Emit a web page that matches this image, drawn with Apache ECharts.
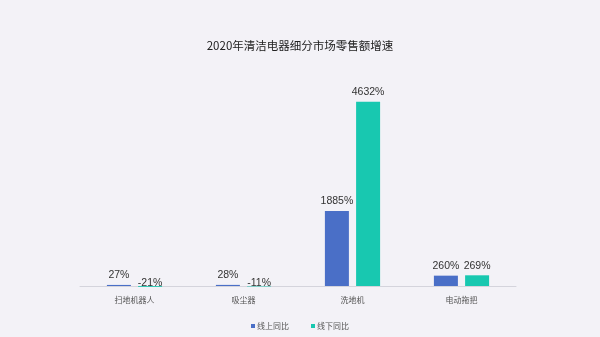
<!DOCTYPE html>
<html><head><meta charset="utf-8">
<script src="https://cdn.jsdelivr.net/npm/echarts@6/dist/echarts.min.js"></script>
<style>html,body{margin:0;padding:0;background:#f3f2f7;}#c{width:600px;height:337px;}</style>
</head><body><div id="c"></div>
<script>
const categories = ['扫地机器人', '吸尘器', '洗地机', '电动拖把'];
const online = [27, 28, 1885, 260];
const offline = [-21, -11, 4632, 269];
const seriesNames = ['线上同比', '线下同比'];

const chart = echarts.init(document.getElementById('c'));
const lbl = {show: true, position: 'top', formatter: p => p.value + '%', color: '#333', fontSize: 10.5, distance: 4, fontFamily: 'Liberation Sans'};
const toData = arr => arr.map(v => v < 0 ? {value: v, label: {offset: [0, 7]}} : v);
chart.setOption({
  backgroundColor: '#f3f2f7',
  textStyle: {fontFamily: 'Noto Sans CJK SC'},
  title: {text: '2020年清洁电器细分市场零售额增速', left: 'center', top: 35, textStyle: {fontSize: 11.5, fontWeight: 'normal', color: '#222'}},
  legend: {top: 317, itemWidth: 4, itemHeight: 4, itemGap: 22, icon: 'rect', textStyle: {fontSize: 8, color: '#555', padding: [0, 0, 0, -3]}, data: seriesNames},
  grid: {left: 80, right: 84, top: 87, bottom: 49},
  xAxis: {type: 'category', data: categories, axisTick: {show: false},
    axisLine: {lineStyle: {color: '#d4d4dc'}},
    axisLabel: {fontSize: 8, color: '#555', margin: 8}},
  yAxis: {type: 'value', min: -50, max: 5000, show: false, splitLine: {show: false}},
  series: [
    {name: seriesNames[0], type: 'bar', data: toData(online), barWidth: 24, barGap: '30%', itemStyle: {color: '#4a6fc7'}, label: lbl},
    {name: seriesNames[1], type: 'bar', data: toData(offline), barWidth: 24, itemStyle: {color: '#18c8b0'}, label: lbl}
  ]
});
</script></body></html>
